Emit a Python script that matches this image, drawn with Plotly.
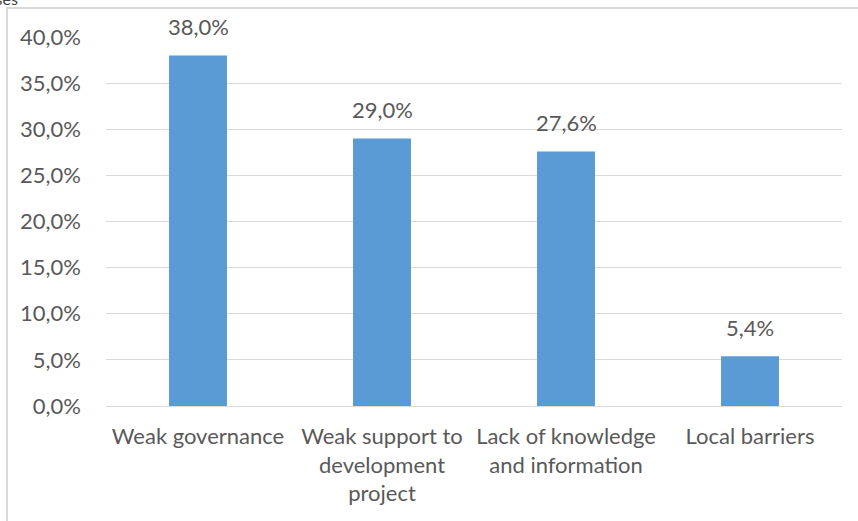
import plotly.graph_objects as go

categories = ["Weak governance", "Weak support to<br>development<br>project",
              "Lack of knowledge<br>and information", "Local barriers"]
values = [0.380, 0.290, 0.276, 0.054]

W, H = 858, 521
L, R, T, B = 106, 16, 37, 115
pw, ph = W - L - R, H - T - B

def px(x):
    return (x - L) / pw

def py(y):
    return (H - B - y) / ph

FONT = "Lato"
FS = 22
GREY = "#595959"

fig = go.Figure(go.Bar(
    x=categories, y=values,
    marker=dict(color="#5B9BD5", line=dict(width=0)),
    width=0.315,
    hoverinfo="x+y",
))

annotations = [dict(x=c, y=v, xref="x", yref="y", text=f"{v*100:.1f}%".replace(".", ","),
                    showarrow=False, yanchor="bottom", yshift=13,
                    font=dict(family=FONT, size=FS, color=GREY))
               for c, v in zip(categories, values)]
annotations.append(dict(text="Causes", xref="paper", yref="paper",
                        x=px(20), y=py(10), xanchor="right", yanchor="bottom",
                        showarrow=False, font=dict(family=FONT, size=16, color="#404040")))

fig.update_layout(
    width=W, height=H,
    margin=dict(l=L, r=R, t=T, b=B),
    paper_bgcolor="white", plot_bgcolor="white",
    separators=",.",
    font=dict(family=FONT, color=GREY, size=FS),
    showlegend=False,
    xaxis=dict(showgrid=False, showline=False, ticks="", ticklabelstandoff=15,
               automargin=False),
    yaxis=dict(range=[0, 0.4], dtick=0.05, tickformat=".1%", showgrid=True,
               gridcolor="#D9D9D9", gridwidth=1, zeroline=True,
               zerolinecolor="#D9D9D9", zerolinewidth=1, ticks="",
               ticklabelstandoff=24, automargin=False),
    shapes=[dict(type="rect", xref="paper", yref="paper",
                 x0=px(7), x1=px(W + 20), y0=py(H + 20), y1=py(8),
                 line=dict(color="#D9D9D9", width=2), layer="below")],
    annotations=annotations,
)

fig.write_html("out.html", config={"displayModeBar": False},
               post_script="document.body.style.margin='0';")
